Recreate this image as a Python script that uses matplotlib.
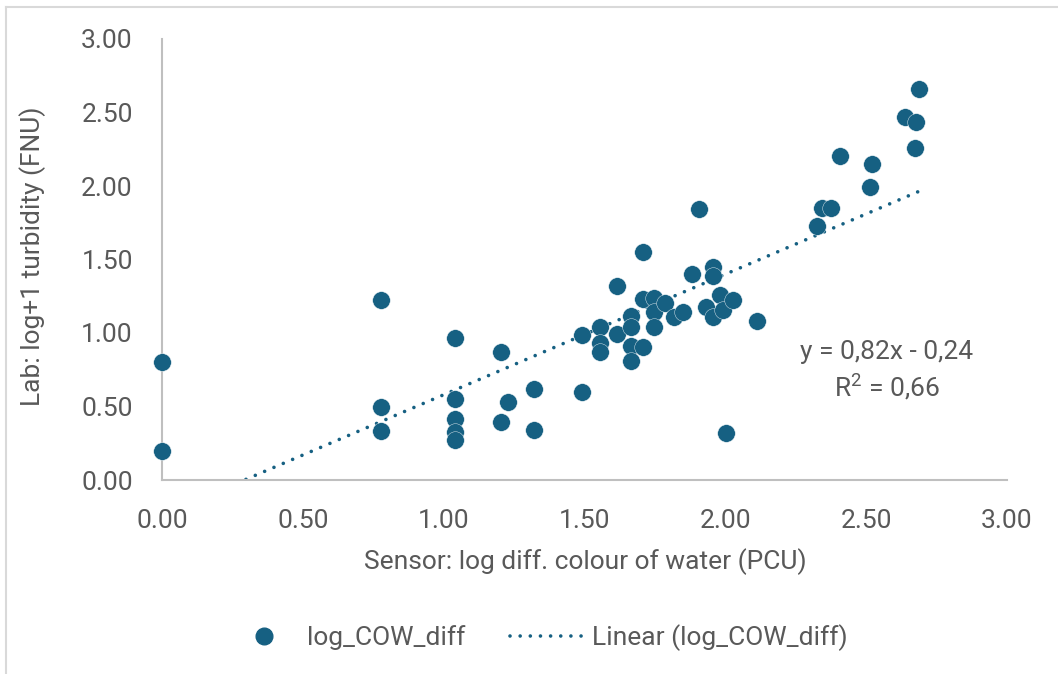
import matplotlib
matplotlib.use("Agg")
import matplotlib.pyplot as plt
import numpy as np
from matplotlib.lines import Line2D

# Data
sensor_x = [0.00, 0.00, 0.776, 0.776, 0.776,
            1.040, 1.040, 1.040, 1.040, 1.040,
            1.203, 1.203, 1.229, 1.322, 1.322,
            1.492, 1.492, 1.555, 1.555, 1.555,
            1.614, 1.614, 1.664, 1.664, 1.664, 1.664,
            1.708, 1.709, 1.709, 1.748, 1.748, 1.748,
            1.787, 1.819, 1.851, 1.880, 1.906,
            1.931, 1.957, 1.957, 1.957, 1.981, 1.993, 2.002, 2.026,
            2.111, 2.324, 2.343, 2.374, 2.407,
            2.514, 2.519, 2.639, 2.672, 2.677, 2.687]
lab_y = [0.805, 0.200, 1.224, 0.500, 0.335,
         0.964, 0.551, 0.415, 0.329, 0.272,
         0.873, 0.392, 0.528, 0.619, 0.338,
         0.601, 0.986, 1.043, 0.930, 0.873,
         1.322, 0.991, 1.116, 1.043, 0.912, 0.810,
         1.553, 0.907, 1.229, 1.236, 1.145, 1.043,
         1.206, 1.111, 1.145, 1.399, 1.843,
         1.175, 1.451, 1.390, 1.107, 1.259, 1.156, 0.317, 1.224,
         1.084, 1.728, 1.852, 1.852, 2.206,
         1.995, 2.147, 2.467, 2.256, 2.433, 2.658]

trend_slope = 0.82
trend_intercept = -0.24
x_ticks = [0.0, 0.5, 1.0, 1.5, 2.0, 2.5, 3.0]
y_ticks = [0.0, 0.5, 1.0, 1.5, 2.0, 2.5, 3.0]

series_name = "log_COW_diff"
trend_name = "Linear (log_COW_diff)"
x_label = "Sensor: log diff. colour of water (PCU)"
y_label = "Lab: log+1 turbidity (FNU)"
eq_text = "y = 0,82x - 0,24"
r2_text = "R$^2$ = 0,66"

COLOR = "#166082"
TEXT = "#595959"
plt.rcParams['font.family'] = ['Roboto', 'DejaVu Sans']
plt.rcParams['mathtext.fontset'] = 'custom'
plt.rcParams['mathtext.rm'] = 'Roboto'

FS = 19

W, H = 1058, 674
fig = plt.figure(figsize=(W / 100, H / 100), dpi=100)
ax = fig.add_axes([162 / W, 1 - 480 / H, (1007 - 162) / W, (480 - 39) / H])

ax.scatter(sensor_x, lab_y, s=160, color=COLOR, edgecolors="#eef3f6",
           linewidths=0.3, zorder=3, clip_on=False)

tx = np.array([0.0, max(sensor_x)])
ax.plot(tx, trend_slope * tx + trend_intercept, color=COLOR, lw=2.6,
        linestyle=(0, (0.01, 2.8)), dash_capstyle="round", zorder=2)

ax.set_xlim(0, 3)
ax.set_ylim(0, 3)
ax.set_xticks(x_ticks)
ax.set_yticks(y_ticks)
ax.set_xticklabels([f"{v:.2f}" for v in x_ticks])
ax.set_yticklabels([f"{v:.2f}" for v in y_ticks])
ax.tick_params(axis="both", length=0, labelsize=FS, labelcolor=TEXT)
ax.tick_params(axis="x", pad=21)
ax.tick_params(axis="y", pad=21)
for s in ["top", "right"]:
    ax.spines[s].set_visible(False)
for s in ["left", "bottom"]:
    ax.spines[s].set_color("#BFBFBF")
    ax.spines[s].set_linewidth(1.5)

fig.text(585 / W, 1 - 562 / H, x_label, ha="center", va="center",
         fontsize=FS, color=TEXT)
fig.text(33 / W, 1 - 256 / H, y_label, ha="center", va="center",
         rotation=90, fontsize=FS, color=TEXT)

fig.text(887 / W, 1 - 352 / H, eq_text, ha="center", va="center",
         fontsize=FS, color=TEXT)
fig.text(887 / W, 1 - 387 / H, r2_text, ha="center", va="center",
         fontsize=FS, color=TEXT)

# legend
handles = [Line2D([], [], marker="o", linestyle="none", color=COLOR,
                  markersize=12),
           Line2D([], [], color=COLOR, lw=2.6, linestyle=(0, (0.01, 2.8)),
                  dash_capstyle="round")]
fig.legend(handles, [series_name, trend_name], loc="center",
           bbox_to_anchor=(536 / W, 1 - 638 / H), ncol=2, frameon=False,
           fontsize=FS, labelcolor=TEXT, handlelength=3.0,
           columnspacing=1.7, handletextpad=0.1)

# chart border (left & top)
fig.add_artist(Line2D([6 / W, 6 / W], [0, 1 - 7 / H], color="#D9D9D9",
                      lw=1.5, transform=fig.transFigure))
fig.add_artist(Line2D([6 / W, 1], [1 - 7 / H, 1 - 7 / H], color="#D9D9D9",
                      lw=1.5, transform=fig.transFigure))

fig.savefig("out.png", dpi=100)
